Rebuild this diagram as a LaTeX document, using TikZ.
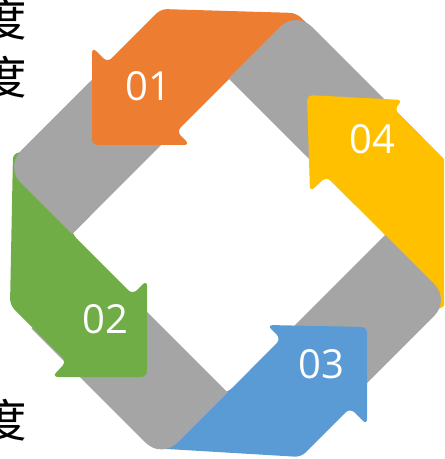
\documentclass[tikz,border=0pt]{standalone}
\usepackage{fontspec}
\newfontfamily\numfont{Open Sans}
\newfontfamily\cjk{Noto Sans CJK SC}
\definecolor{ribbongray}{HTML}{A5A5A5}
\definecolor{ribbonorange}{HTML}{ED7D31}
\definecolor{ribbongreen}{HTML}{70AD47}
\definecolor{ribbonblue}{HTML}{5B9BD5}
\definecolor{ribbonyellow}{HTML}{FFC000}
\begin{document}
\begin{tikzpicture}[x=0.75pt,y=-0.75pt,
  band/.style={fill=ribbongray},
  ribbon/.style={rounded corners=4.5pt},
  numlabel/.style={text=white,inner sep=0pt,font=\numfont\fontsize{30}{30}\selectfont},
  sidechar/.style={inner sep=0pt,anchor=east,font=\cjk\fontsize{34}{34}\selectfont}]
\useasboundingbox (0,0) rectangle (444,459);
\clip (0,0) rectangle (444,459);

% top-left grey band
\fill[band] (80.5,91.5) [rounded corners=16.5pt] -- (5,167) [sharp corners] -- (72,234) -- (223,83) -- (156,16) -- cycle;

% arrow 01
\fill[ribbonorange,ribbon] (92,145) -- (92,47) -- (107.5,62.5) -- (161,9) -- (296,13) -- (312,28)
  -- (232,76) -- (176.5,131.5) -- (190,145) -- cycle;

% top-right grey band
\fill[band] (359.25,74.25) [rounded corners=16.5pt] -- (296,11) [sharp corners] -- (228.5,78.5) -- (355,205) -- (422.5,137.5) -- cycle;

% arrow 04
\fill[ribbonyellow,ribbon] (307,95) -- (403,100) -- (394,109) -- (447,162) -- (447,305) -- (425,315)
  -- (387,237) -- (326.5,176.5) -- (310,192) -- cycle;

% bottom-right grey band
\fill[band] (382.5,367.5) [rounded corners=16.5pt] -- (450,300) [sharp corners] -- (385,235) -- (250,370) -- (315,435) -- cycle;

% arrow 03
\fill[ribbonblue,ribbon] (367,327) -- (267,325) -- (281,339) -- (227.5,392.5) -- (180,400) -- (150,448)
  -- (301,457) -- (350,408) -- (367,425) -- cycle;

% bottom-left grey band
\fill[band] (96.5,393.5) [rounded corners=16.5pt] -- (161.5,458.5) [sharp corners] -- (227.5,392.5) -- (97.5,262.5) -- (31.5,328.5) -- cycle;

% arrow 02
\fill[ribbongreen,ribbon] (147,377) -- (147,280) -- (132.5,294.5) -- (73,235) -- (50,150) -- (13,153)
  -- (10,305) -- (66.5,361.5) -- (52,377) -- cycle;

% the end of the top-left band folds over the tail of arrow 02
\begin{scope}
  \clip (0,0) rectangle (90,459);
  \fill[band] (80.5,91.5) [rounded corners=16.5pt] -- (5,167) [sharp corners] -- (72,234) -- (223,83) -- (156,16) -- cycle;
\end{scope}

% step numbers
\node[numlabel] (n01) at (148.5,86) {01};
\node[numlabel] (n02) at (105.5,319) {02};
\node[numlabel] (n03) at (321,364.5) {03};
\node[numlabel] (n04) at (372.5,139) {04};

% characters at the left margin
\node[sidechar] (c1) at (27,19) {度};
\node[sidechar] (c2) at (27,77) {度};
\node[sidechar] (c3) at (27,420) {度};
\end{tikzpicture}
\end{document}
